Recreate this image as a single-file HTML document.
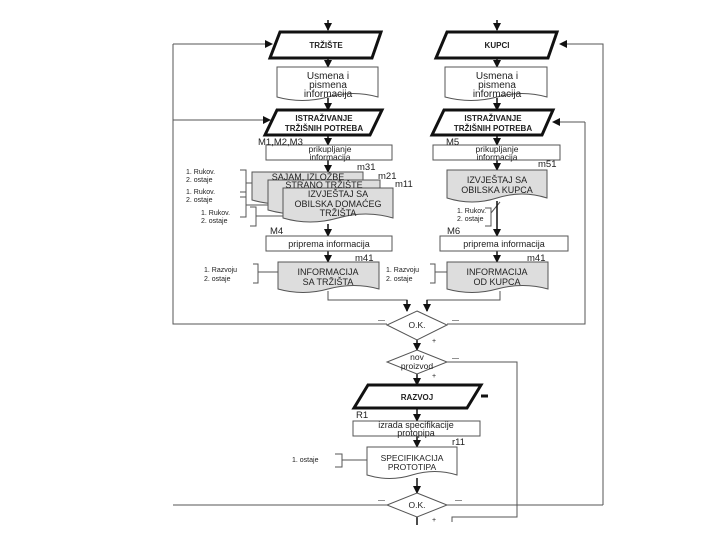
<!DOCTYPE html>
<html><head><meta charset="utf-8"><style>
html,body{margin:0;padding:0;background:#fff;}
svg{display:block;font-family:"Liberation Sans",sans-serif;}
.t{font-size:10px;text-anchor:middle;fill:#222;}
.b{font-size:8px;font-weight:bold;text-anchor:middle;fill:#222;}
.s{font-size:7px;fill:#222;}
.l{font-size:9.5px;fill:#222;}
</style></head><body>
<svg width="720" height="540" viewBox="0 0 720 540">
<defs><marker id="a" markerWidth="8" markerHeight="8" refX="7" refY="4" orient="auto" markerUnits="userSpaceOnUse"><path d="M0,0 L8,4 L0,8z" fill="#111"/></marker></defs>
<g fill="none" stroke="#555" stroke-width="1">
<path d="M173,44 V324 H387"/>
<path d="M173,44 H272" marker-end="url(#a)"/>
<path d="M173,120 H270" marker-end="url(#a)"/>
<path d="M585,122 V324 H447"/>
<path d="M585,122 H553" marker-end="url(#a)"/>
<path d="M603,505 V44 H560" marker-end="url(#a)"/>
<path d="M447,505 H603"/>
<path d="M387,505 H173"/>
<path d="M447,362 H517 V517 H452 V522"/>
<path d="M240,170 H246 V197 H240 M246,183 H265 M240,192 H246 V217 H240 M246,205 H268 M250,207 H256 V226 H250 M256,216 H283"/>
<path d="M485,208 H491 V226 H485 M491,213 L500,202"/>
<path d="M253,264 H258 V283 H253 M258,272 H278"/>
<path d="M430,264 H435 V283 H430 M435,272 H447"/>
<path d="M335,454 H342 V467 H335 M342,460 H367"/>
<path d="M328,291 V300 H407 V311 M500,291 V300 H427 V311"/>
</g>
<g stroke="#111" stroke-width="1.5" fill="none">
<path d="M328,20 V30" marker-end="url(#a)"/>
<path d="M497,20 V30" marker-end="url(#a)"/>
<path d="M328,58 V67" marker-end="url(#a)"/>
<path d="M497,58 V67" marker-end="url(#a)"/>
<path d="M328,98 V110" marker-end="url(#a)"/>
<path d="M497,98 V110" marker-end="url(#a)"/>
<path d="M328,135 V145" marker-end="url(#a)"/>
<path d="M497,135 V145" marker-end="url(#a)"/>
<path d="M328,160 V172" marker-end="url(#a)"/>
<path d="M497,160 V170" marker-end="url(#a)"/>
<path d="M328,224 V236" marker-end="url(#a)"/>
<path d="M497,201 V236" marker-end="url(#a)"/>
<path d="M328,251 V262" marker-end="url(#a)"/>
<path d="M497,251 V262" marker-end="url(#a)"/>
<path d="M407,300 V311" marker-end="url(#a)"/>
<path d="M427,300 V311" marker-end="url(#a)"/>
<path d="M417,340 V350" marker-end="url(#a)"/>
<path d="M417,374 V385" marker-end="url(#a)"/>
<path d="M417,408 V421" marker-end="url(#a)"/>
<path d="M417,436 V447" marker-end="url(#a)"/>
<path d="M417,478 V493" marker-end="url(#a)"/>
<path d="M417,517 V525"/>
</g>
<g fill="#fff" stroke="#111" stroke-width="3">
<polygon points="280,32 381,32 372,58 270,58"/>
<polygon points="447,32 557,32 548,58 436,58"/>
<polygon points="277,110 382,110 370,135 265,135"/>
<polygon points="444,110 553,110 542,135 432,135"/>
<polygon points="368,385 481,385 467,408 354,408"/>
</g>
<path d="M481,396 H488" stroke="#111" stroke-width="3"/>
<text class="b" x="326" y="48">TRŽIŠTE</text>
<text class="b" x="497" y="48">KUPCI</text>
<text class="b" x="324" y="121">ISTRAŽIVANJE</text>
<text class="b" x="324" y="131">TRŽIŠNIH POTREBA</text>
<text class="b" x="493" y="121">ISTRAŽIVANJE</text>
<text class="b" x="493" y="131">TRŽIŠNIH POTREBA</text>
<text class="b" x="417" y="400">RAZVOJ</text>
<g stroke="#555" stroke-width="1">
<path d="M277,67 H378 V97 Q353,90 328,97 Q302,104 277,97 Z" fill="#fff"/>
<path d="M445,67 H547 V97 Q522,90 497,97 Q471,104 445,97 Z" fill="#fff"/>
<path d="M252,172 H363 V200 Q335,192 308,200 Q280,208 252,200 Z" fill="#ddd"/>
<path d="M268,180 H380 V210 Q352,202 324,210 Q296,218 268,210 Z" fill="#ddd"/>
<path d="M283,188 H393 V218 Q366,210 338,218 Q310,226 283,218 Z" fill="#ddd"/>
<path d="M447,170 H547 V198 Q522,190 497,198 Q472,206 447,198 Z" fill="#ddd"/>
<path d="M278,262 H379 V289 Q354,282 328,289 Q303,296 278,289 Z" fill="#ddd"/>
<path d="M447,262 H548 V289 Q523,282 497,289 Q472,296 447,289 Z" fill="#ddd"/>
<path d="M367,447 H457 V475 Q435,468 412,475 Q390,482 367,475 Z" fill="#fff"/>
</g>
<g fill="#fff" stroke="#555" stroke-width="1">
<rect x="266" y="145" width="126" height="15"/>
<rect x="433" y="145" width="127" height="15"/>
<rect x="266" y="236" width="126" height="15"/>
<rect x="440" y="236" width="128" height="15"/>
<rect x="353" y="421" width="127" height="15"/>
<polygon points="417,311 447,325 417,340 387,325"/>
<polygon points="417,350 447,362 417,374 387,362"/>
<polygon points="417,493 447,505 417,517 387,505"/>
</g>
<text class="t" x="328" y="79">Usmena i</text><text class="t" x="328" y="88">pismena</text><text class="t" x="328" y="97">informacija</text>
<text class="t" x="497" y="79">Usmena i</text><text class="t" x="497" y="88">pismena</text><text class="t" x="497" y="97">informacija</text>
<text class="l" x="258" y="145">M1,M2,M3</text>
<text class="l" x="446" y="145">M5</text>
<text class="t" x="330" y="152" style="font-size:8.5px">prikupljanje</text><text class="t" x="330" y="160" style="font-size:8.5px">informacija</text>
<text class="t" x="497" y="152" style="font-size:8.5px">prikupljanje</text><text class="t" x="497" y="160" style="font-size:8.5px">informacija</text>
<text class="l" x="357" y="170">m31</text><text class="l" x="378" y="179">m21</text><text class="l" x="395" y="187">m11</text><text class="l" x="538" y="167">m51</text>
<text class="t" x="308" y="180" style="font-size:9px">SAJAM, IZLOŽBE</text>
<text class="t" x="324" y="188" style="font-size:9px">STRANO TRŽIŠTE</text>
<text class="t" x="338" y="197" style="font-size:9px">IZVJEŠTAJ SA</text>
<text class="t" x="338" y="207" style="font-size:9px">OBILSKA DOMAĆEG</text>
<text class="t" x="338" y="216" style="font-size:9px">TRŽIŠTA</text>
<text class="t" x="497" y="183" style="font-size:9px">IZVJEŠTAJ SA</text>
<text class="t" x="497" y="193" style="font-size:9px">OBILSKA KUPCA</text>
<text class="s" x="186" y="174">1. Rukov.</text><text class="s" x="186" y="182">2. ostaje</text>
<text class="s" x="186" y="194">1. Rukov.</text><text class="s" x="186" y="202">2. ostaje</text>
<text class="s" x="201" y="215">1. Rukov.</text><text class="s" x="201" y="223">2. ostaje</text>
<text class="s" x="457" y="213">1. Rukov.</text><text class="s" x="457" y="221">2. ostaje</text>
<text class="l" x="270" y="234">M4</text><text class="l" x="447" y="234">M6</text>
<text class="t" x="329" y="247" style="font-size:9px">priprema informacija</text>
<text class="t" x="504" y="247" style="font-size:9px">priprema informacija</text>
<text class="l" x="355" y="261">m41</text><text class="l" x="527" y="261">m41</text>
<text class="t" x="328" y="275" style="font-size:9px">INFORMACIJA</text><text class="t" x="328" y="285" style="font-size:9px">SA TRŽIŠTA</text>
<text class="t" x="497" y="275" style="font-size:9px">INFORMACIJA</text><text class="t" x="497" y="285" style="font-size:9px">OD KUPCA</text>
<text class="s" x="204" y="272">1. Razvoju</text><text class="s" x="204" y="281">2. ostaje</text>
<text class="s" x="386" y="272">1. Razvoju</text><text class="s" x="386" y="281">2. ostaje</text>
<text class="t" x="417" y="328" style="font-size:8.5px">O.K.</text>
<text class="t" x="417" y="360" style="font-size:8.5px">nov</text><text class="t" x="417" y="369" style="font-size:8.5px">proizvod</text>
<text class="t" x="417" y="508" style="font-size:8.5px">O.K.</text>
<text class="s" x="432" y="343">+</text><text class="s" x="432" y="378">+</text><text class="s" x="432" y="522">+</text>
<text class="s" x="378" y="322">—</text><text class="s" x="452" y="322">—</text><text class="s" x="452" y="360">—</text>
<text class="s" x="378" y="502">—</text><text class="s" x="455" y="502">—</text>
<text class="l" x="356" y="418">R1</text>
<text class="t" x="416" y="428" style="font-size:9px">izrada specifikacije</text><text class="t" x="416" y="436" style="font-size:9px">protopipa</text>
<text class="l" x="452" y="445">r11</text>
<text class="t" x="412" y="461" style="font-size:8.5px">SPECIFIKACIJA</text><text class="t" x="412" y="470" style="font-size:8.5px">PROTOTIPA</text>
<text class="s" x="292" y="462">1. ostaje</text>
</svg>
</body></html>
